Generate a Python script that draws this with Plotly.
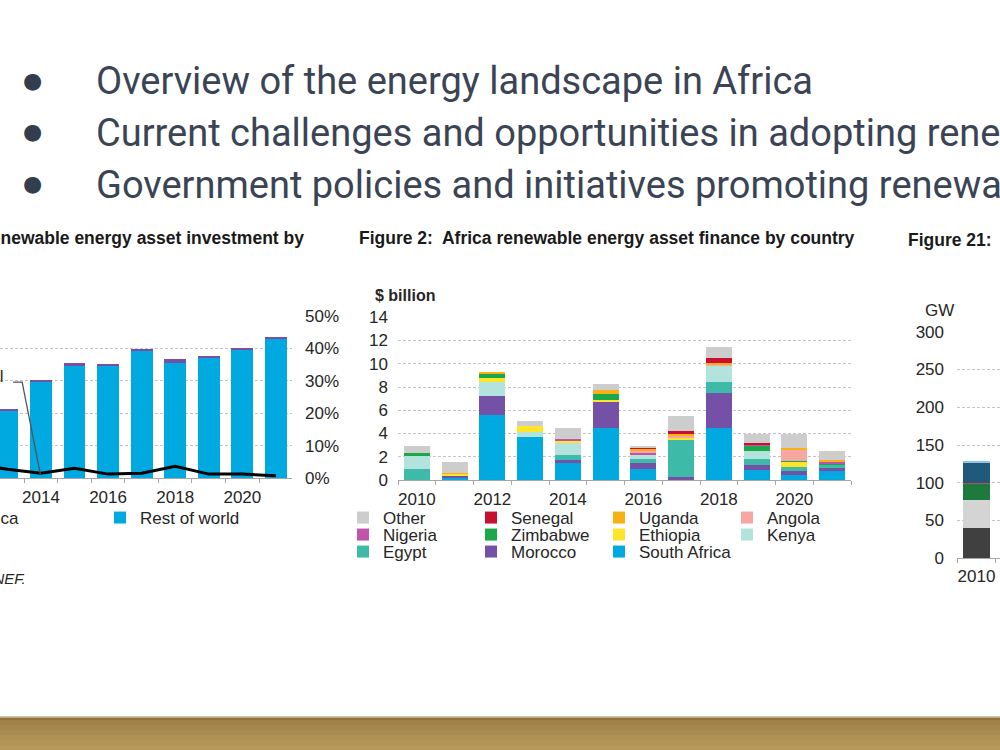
import plotly.graph_objects as go

# ---------------- data ----------------
# Figure 1 (partially visible): renewable energy asset investment ($bn) and Africa share (%)
fig1_years = [2013, 2014, 2015, 2016, 2017, 2018, 2019, 2020, 2021]
fig1_rest_of_world = [208, 297, 346, 346, 392, 355, 373, 398, 431]
fig1_africa = [5.1, 4.5, 8.3, 2.9, 5.5, 11.4, 3.9, 3.9, 2.5]
fig1_share_years = [2012, 2013, 2014, 2015, 2016, 2017, 2018, 2019, 2020, 2021]
fig1_africa_share = [4.3, 2.7, 1.5, 3.0, 1.2, 1.5, 3.6, 1.2, 1.2, 0.7]
fig1_ticks = [2014, 2016, 2018, 2020]

# Figure 2: Africa renewable energy asset finance by country ($ billion)
fig2_years = [2010, 2011, 2012, 2013, 2014, 2015, 2016, 2017, 2018, 2019, 2020, 2021]
south_africa = [0, 0.17, 5.55, 3.67, 1.52, 4.44, 0.92, 0, 4.44, 0.80, 0.40, 0.72]
morocco      = [0, 0.20, 1.65, 0, 0.14, 2.23, 0.52, 0.23, 3.01, 0.49, 0.37, 0.29]
egypt        = [0.95, 0, 0, 0, 0.46, 0, 0.31, 3.21, 1.00, 0.52, 0.31, 0.31]
kenya        = [1.10, 0, 1.25, 0.43, 1.06, 0, 0.43, 0, 1.38, 0.63, 0, 0]
ethiopia     = [0, 0.15, 0.32, 0.52, 0.11, 0.20, 0, 0.17, 0, 0, 0.49, 0]
zimbabwe     = [0.25, 0, 0.34, 0, 0, 0.52, 0, 0, 0, 0.49, 0.08, 0.11]
nigeria      = [0, 0, 0, 0, 0.20, 0, 0.14, 0, 0, 0.11, 0, 0.11]
angola       = [0, 0, 0.05, 0, 0, 0, 0.11, 0.20, 0.10, 0, 0.95, 0]
uganda       = [0, 0.08, 0.14, 0, 0, 0.29, 0.23, 0.15, 0.10, 0, 0.14, 0.17]
senegal      = [0, 0, 0, 0, 0, 0, 0.14, 0.20, 0.46, 0.11, 0, 0]
other        = [0.60, 0.90, 0, 0.46, 0.97, 0.57, 0.11, 1.30, 0.92, 0.75, 1.23, 0.80]
fig2_ticks = [2010, 2012, 2014, 2016, 2018, 2020]

# Figure 21 (partially visible): capacity, GW
fig21_years = [2010]
fig21_coal = [41]
fig21_gas = [36]
fig21_hydro = [22]
fig21_nuclear = [1.5]
fig21_oil = [27]
fig21_solar = [1]

bullets = [
    "Overview of the energy landscape in Africa",
    "Current challenges and opportunities in adopting renewable energy",
    "Government policies and initiatives promoting renewable energy",
]

# ---------------- helpers ----------------
W, H = 1000, 750
def px(x):
    return x / W
def py(y):
    return 1 - y / H

TXT = "#262626"
FONT = "Liberation Sans, Arial, sans-serif"
GRID = "#c4c4c4"

fig = go.Figure()

# ----- Figure 1 -----
fig.add_trace(go.Bar(x=fig1_years, y=fig1_rest_of_world, name="Rest of world",
                     marker=dict(color="#00a9e0", line=dict(width=0)), width=0.65,
                     xaxis="x", yaxis="y", legend="legend5"))
fig.add_trace(go.Bar(x=fig1_years, y=fig1_africa, name="Africa",
                     marker=dict(color="#7451a6", line=dict(width=0)), width=0.65,
                     xaxis="x", yaxis="y", legend="legend4"))
fig.add_trace(go.Scatter(x=fig1_share_years, y=fig1_africa_share, mode="lines",
                         line=dict(color="#000000", width=3), showlegend=False,
                         xaxis="x", yaxis="y2"))

# ----- Figure 2 -----
series = [
    ("South Africa", south_africa, "#00a9e0", "legend6"),
    ("Morocco", morocco, "#7451a6", "legend3"),
    ("Egypt", egypt, "#3dbba8", "legend3"),
    ("Kenya", kenya, "#b3e3dd", "legend2"),
    ("Ethiopia", ethiopia, "#ffe52a", "legend2"),
    ("Zimbabwe", zimbabwe, "#1aa84a", "legend2"),
    ("Nigeria", nigeria, "#c054a8", "legend2"),
    ("Angola", angola, "#f6a7a2", "legend"),
    ("Uganda", uganda, "#f7b016", "legend"),
    ("Senegal", senegal, "#c8102e", "legend"),
    ("Other", other, "#cdcdcd", "legend"),
]
for name, vals, col, lg in series:
    fig.add_trace(go.Bar(x=fig2_years, y=vals, name=name,
                         marker=dict(color=col, line=dict(width=0)), width=0.69,
                         xaxis="x2", yaxis="y3", legend=lg))

# ----- Figure 21 -----
for name, vals, col in [("Coal", fig21_coal, "#404040"), ("Gas", fig21_gas, "#d4d4d4"),
                        ("Hydro", fig21_hydro, "#1e7a3c"), ("Nuclear", fig21_nuclear, "#c0504d"),
                        ("Oil", fig21_oil, "#1f5a7c"), ("Solar", fig21_solar, "#8cc7e6")]:
    fig.add_trace(go.Bar(x=fig21_years, y=vals, name=name, showlegend=False,
                         marker=dict(color=col, line=dict(width=0)), width=0.67,
                         xaxis="x3", yaxis="y4"))

# ---------------- layout ----------------
axfont = dict(family=FONT, size=17, color=TXT)
minor_ticks = dict(ticks="outside", ticklen=4, tickcolor="#a6a6a6", tick0=2009.5, dtick=1, showgrid=False)

legend_common = dict(orientation="h", xanchor="left", yanchor="middle", bgcolor="rgba(0,0,0,0)",
                     font=dict(family=FONT, size=17, color=TXT), itemwidth=30,
                     traceorder="reversed", entrywidth=83, itemclick=False, itemdoubleclick=False)

fig.update_layout(
    width=W, height=H,
    margin=dict(l=0, r=0, t=0, b=0, pad=0, autoexpand=False),
    paper_bgcolor="white", plot_bgcolor="rgba(0,0,0,0)",
    barmode="stack", bargap=0,
    font=dict(family=FONT, color=TXT),
    showlegend=True,
    xaxis=dict(domain=[0, 0.292], range=[2012.78, 2021.48], anchor="y",
               tickmode="array", tickvals=fig1_ticks, ticks="", tickfont=axfont,
               showline=True, linecolor="#a6a6a6", linewidth=1, showgrid=False, zeroline=False,
               minor=minor_ticks, ticklabelstandoff=4),
    yaxis=dict(domain=[py(478), py(316)], range=[0, 500], anchor="x", visible=False,
               showgrid=False, zeroline=False),
    yaxis2=dict(overlaying="y", side="right", anchor="x", range=[0, 50], dtick=10,
                ticksuffix="%", tickfont=axfont, ticks="", showline=False,
                showgrid=True, gridcolor=GRID, griddash="3px,2px", gridwidth=1,
                zeroline=False, ticklabelstandoff=12),
    xaxis2=dict(domain=[px(398), px(851)], range=[2009.5, 2021.5], anchor="y3",
                tickmode="array", tickvals=fig2_ticks, ticks="", tickfont=axfont,
                showline=True, linecolor="#a6a6a6", linewidth=1, showgrid=False, zeroline=False,
                minor=minor_ticks, ticklabelstandoff=4),
    yaxis3=dict(domain=[py(480), py(317.3)], range=[0, 14], dtick=2, anchor="x2",
                tickfont=axfont, ticks="", showline=False,
                showgrid=True, gridcolor=GRID, griddash="3px,2px", gridwidth=1,
                zeroline=False, ticklabelstandoff=9),
    xaxis3=dict(domain=[px(957), 1.0], range=[2009.5, 2010.603], anchor="y4",
                tickmode="array", tickvals=fig21_years, ticks="", tickfont=axfont,
                showline=True, linecolor="#a6a6a6", linewidth=1, showgrid=False, zeroline=False,
                minor=minor_ticks, ticklabelstandoff=2),
    yaxis4=dict(domain=[py(558.3), py(331.7)], range=[0, 300], dtick=50, anchor="x3",
                tickfont=axfont, ticks="", showline=False,
                showgrid=True, gridcolor=GRID, griddash="3px,2px", gridwidth=1,
                zeroline=False, ticklabelstandoff=12),
    legend=dict(legend_common, x=px(343), y=py(518)),
    legend2=dict(legend_common, x=px(343), y=py(535)),
    legend3=dict(legend_common, x=px(343), y=py(552)),
    legend6=dict(legend_common, x=px(599), y=py(552), entrywidth=120),
    legend4=dict(legend_common, x=px(-65), y=py(518), entrywidth=60),
    legend5=dict(legend_common, x=px(100), y=py(518), entrywidth=130),
)

annotations = []
for i, text in enumerate(bullets):
    yc = 80 + 52 * i
    annotations.append(dict(x=px(32), y=py(yc), xref="paper", yref="paper", text="●",
                            showarrow=False, xanchor="center", yanchor="middle",
                            font=dict(family="DejaVu Sans", size=22, color="#333d4d")))
    annotations.append(dict(x=px(94), y=py(yc + 1), xref="paper", yref="paper", text=text,
                            showarrow=False, xanchor="left", yanchor="middle",
                            font=dict(family="Roboto", size=38, color="#3a4455")))

annotations += [
    dict(x=px(306), y=py(238), text="<b>Figure 1:  Global renewable energy asset investment by</b>",
         xanchor="right", yanchor="middle", font=dict(family=FONT, size=17.5, color="#1a1a1a")),
    dict(x=px(357), y=py(238), text="<b>Figure 2:  Africa renewable energy asset finance by country</b>",
         xanchor="left", yanchor="middle", font=dict(family=FONT, size=17.5, color="#1a1a1a")),
    dict(x=px(906), y=py(240), text="<b>Figure 21:  Installed power capacity in Africa</b>",
         xanchor="left", yanchor="middle", font=dict(family=FONT, size=17.5, color="#1a1a1a")),
    dict(x=px(373), y=py(295), text="<b>$ billion</b>", xanchor="left", yanchor="middle",
         font=dict(family=FONT, size=16, color=TXT)),
    dict(x=px(939), y=py(310), text="GW", xanchor="center", yanchor="middle",
         font=dict(family=FONT, size=17, color=TXT)),
    dict(x=px(28), y=py(578), text="<i>Source: BloombergNEF.</i>", xanchor="right", yanchor="middle",
         font=dict(family=FONT, size=15, color=TXT)),
    dict(x=px(5), y=py(376), text="Africa share of total", xanchor="right", yanchor="middle",
         font=dict(family=FONT, size=17, color=TXT)),
]
for a in annotations:
    a.setdefault("xref", "paper")
    a.setdefault("yref", "paper")
    a.setdefault("showarrow", False)
fig.update_layout(annotations=annotations)

# leader line of the Figure 1 label (in data coordinates)
shapes = [
    dict(type="path", xref="x", yref="y2", path="M 2013.17,29.6 L 2013.44,29.6 L 2013.98,1.3",
         line=dict(color="#555555", width=1.3)),
]
# gold footer band
band = [(716, 717.5, "#cdc3a8"), (717.5, 720, "#96723a"), (720, 725, "#9f8249"),
        (725, 730, "#a4874d"), (730, 735, "#a98c51"), (735, 740, "#ae9155"),
        (740, 745, "#b29557"), (745, 750, "#b5985a")]
for y0, y1, col in band:
    shapes.append(dict(type="rect", xref="paper", yref="paper", x0=0, x1=1, y0=py(y1), y1=py(y0),
                       fillcolor=col, line=dict(width=0), layer="above"))
fig.update_layout(shapes=shapes)

fig.write_html("out.html")
